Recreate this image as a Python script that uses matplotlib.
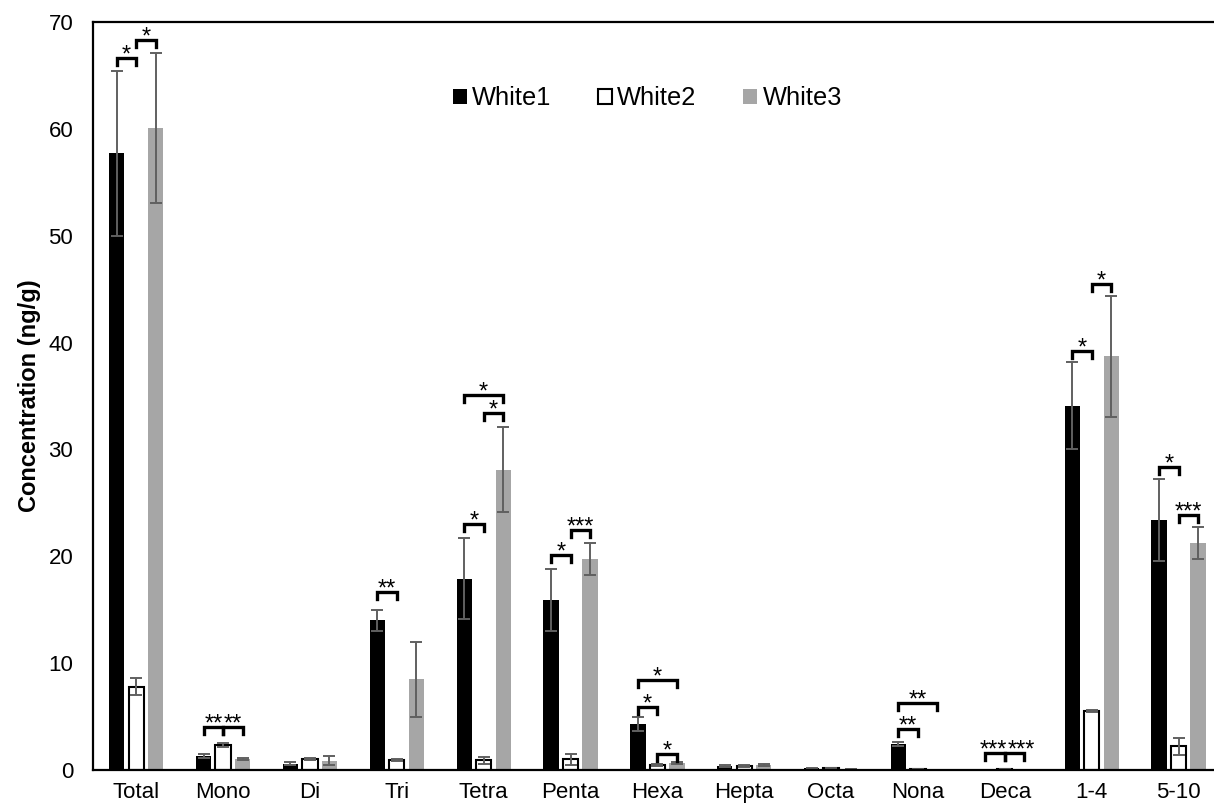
import numpy as np
import matplotlib.pyplot as plt

plt.rcParams['font.family'] = ['Liberation Sans', 'DejaVu Sans']

# congener groups and mean concentrations (ng/g) with error
cats = ['Total', 'Mono', 'Di', 'Tri', 'Tetra', 'Penta', 'Hexa', 'Hepta',
        'Octa', 'Nona', 'Deca', '1-4', '5-10']
white1 = [57.7, 1.3, 0.6, 14.0, 17.9, 15.9, 4.3, 0.35, 0.15, 2.4, 0.02, 34.1, 23.4]
white1_err = [7.7, 0.2, 0.15, 1.0, 3.8, 2.9, 0.7, 0.1, 0.05, 0.2, 0.01, 4.1, 3.8]
white2 = [7.8, 2.35, 1.0, 0.94, 0.9, 1.0, 0.5, 0.35, 0.15, 0.05, 0.08, 5.5, 2.2]
white2_err = [0.8, 0.2, 0.08, 0.1, 0.3, 0.5, 0.1, 0.08, 0.05, 0.02, 0.02, 0.1, 0.8]
white3 = [60.1, 1.0, 0.87, 8.5, 28.1, 19.7, 0.65, 0.45, 0.1, 0.03, 0.0, 38.7, 21.2]
white3_err = [7.0, 0.1, 0.45, 3.5, 4.0, 1.5, 0.12, 0.1, 0.03, 0.01, 0.0, 5.7, 1.5]

# significance brackets: (group, bar a, bar b, height, stars, star x shift in pt)
sig = [
    (0, 0, 1, 66.6, '*', 0), (0, 1, 2, 68.3, '*', 0),
    (1, 0, 1, 4.05, '**', 0), (1, 1, 2, 4.05, '**', 0),
    (3, 0, 1, 16.65, '**', 0),
    (4, 0, 1, 23.0, '*', 0), (4, 1, 2, 33.4, '*', 0), (4, 0, 2, 35.1, '*', 0),
    (5, 0, 1, 20.1, '*', 0), (5, 1, 2, 22.45, '***', 0),
    (6, 0, 1, 5.9, '*', 0), (6, 0, 2, 8.4, '*', 0), (6, 1, 2, 1.5, '*', 0),
    (9, 0, 1, 3.83, '**', 0), (9, 0, 2, 6.27, '**', 0),
    (10, 0, 1, 1.6, '***', -1), (10, 1, 2, 1.6, '***', 5),
    (11, 0, 1, 39.2, '*', 0), (11, 1, 2, 45.5, '*', 0),
    (12, 0, 1, 28.35, '*', 0), (12, 1, 2, 23.85, '***', 0),
]

fig = plt.figure(figsize=(12.14, 8.11), dpi=100)
ax = fig.add_axes([0.0764, 0.0506, 0.9302, 0.9223])

x = np.arange(len(cats))
offs = [-0.2245, 0.0, 0.2245]
w = 0.176
err_kw = dict(ecolor='#606060', elinewidth=1.4, capsize=4.3, capthick=1.4)

ax.bar(x + offs[0], white1, w, yerr=white1_err, color='black',
       error_kw=err_kw, label='White1')
ax.bar(x + offs[1], white2, w, yerr=white2_err, color='white',
       edgecolor='black', linewidth=1.5, error_kw=err_kw, label='White2')
ax.bar(x + offs[2], white3, w, yerr=white3_err, color='#a6a6a6',
       error_kw=err_kw, label='White3')

for g, a, b, y, s, dx in sig:
    x1, x2 = g + offs[a], g + offs[b]
    h = 0.65
    ax.plot([x1, x1, x2, x2], [y - h, y, y, y - h], color='black', lw=2.4,
            solid_joinstyle='miter', zorder=4)
    ax.annotate(s, xy=((x1 + x2) / 2, y), xytext=(dx, -2.5),
                textcoords='offset points', ha='center', va='baseline',
                fontsize=17)

ax.set_xlim(-0.5, len(cats) - 0.5)
ax.set_ylim(0, 70)
ax.set_yticks(np.arange(0, 71, 10))
ax.set_xticks(x, cats)
ax.tick_params(axis='x', length=0, pad=9, labelsize=16)
ax.tick_params(axis='y', length=0, pad=14, labelsize=16)
ax.set_ylabel('Concentration (ng/g)', fontsize=17, fontweight='bold',
              labelpad=5)
for sp in ax.spines.values():
    sp.set_linewidth(1.6)
    sp.set_color('black')

ax.legend(ncol=3, loc='center', bbox_to_anchor=(0.491, 0.898),
          frameon=False, fontsize=18.3, handlelength=0.55, handleheight=0.55,
          handletextpad=0.2, columnspacing=1.85)

fig.savefig('out.png', dpi=100)
